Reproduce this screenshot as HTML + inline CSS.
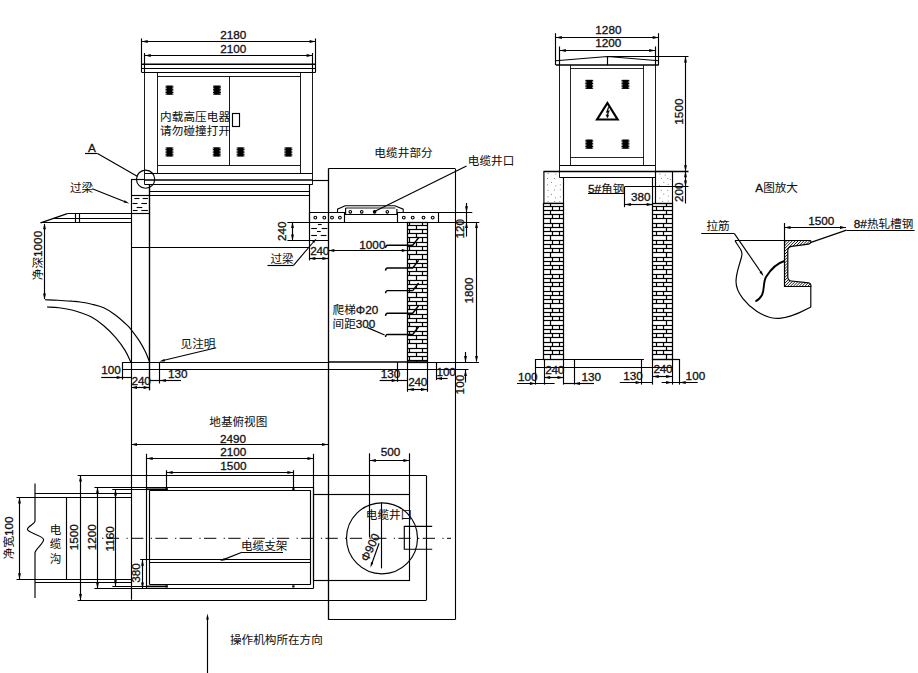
<!DOCTYPE html>
<html lang="zh"><head><meta charset="utf-8"><title>箱式变电站基础图</title>
<style>
html,body{margin:0;padding:0;background:#fff;}
svg{display:block}
svg text{font-family:"Liberation Sans","Noto Sans CJK SC",sans-serif;font-size:11.6px;fill:#111;stroke:#111;stroke-width:0.05px}
svg .d{font-size:11.75px;stroke-width:0.3px}
</style></head><body>
<svg width="918" height="673" viewBox="0 0 918 673" fill="none" stroke="#000">
<line x1="141.7" y1="41.5" x2="315.6" y2="41.5" stroke-width="1.15"/>
<polygon points="141.7,41.5 147.7,40.05 147.7,42.95" fill="#000" stroke="none"/>
<polygon points="315.6,41.5 309.6,42.95 309.6,40.05" fill="#000" stroke="none"/>
<text x="233.2" y="38.7" text-anchor="middle" class="d">2180</text>
<line x1="144.8" y1="55.5" x2="312.6" y2="55.5" stroke-width="1.15"/>
<polygon points="144.8,55.5 150.8,54.05 150.8,56.95" fill="#000" stroke="none"/>
<polygon points="312.6,55.5 306.6,56.95 306.6,54.05" fill="#000" stroke="none"/>
<text x="233.2" y="52.8" text-anchor="middle" class="d">2100</text>
<line x1="141.5" y1="38.5" x2="141.5" y2="72.4" stroke-width="1.15"/>
<line x1="315.5" y1="38.5" x2="315.5" y2="72.4" stroke-width="1.15"/>
<line x1="144.5" y1="53" x2="144.5" y2="72.4" stroke-width="1.15"/>
<line x1="312.5" y1="53" x2="312.5" y2="72.4" stroke-width="1.15"/>
<line x1="141.7" y1="64.2" x2="315.6" y2="64.2" stroke-width="1.6"/>
<line x1="141.7" y1="68.5" x2="315.6" y2="68.5" stroke-width="1.15"/>
<line x1="141.7" y1="72.5" x2="315.6" y2="72.5" stroke-width="1.15"/>
<line x1="144.5" y1="72.4" x2="144.5" y2="184.7" stroke-width="0.9"/>
<line x1="312.5" y1="72.4" x2="312.5" y2="184.7" stroke-width="0.9"/>
<line x1="157.5" y1="72.4" x2="157.5" y2="173.3" stroke-width="0.9"/>
<line x1="300.5" y1="72.4" x2="300.5" y2="173.3" stroke-width="0.9"/>
<line x1="157.7" y1="76.5" x2="300.3" y2="76.5" stroke-width="0.9"/>
<line x1="157.7" y1="165.5" x2="300.3" y2="165.5" stroke-width="0.9"/>
<line x1="229.5" y1="76.6" x2="229.5" y2="165.3" stroke-width="0.9"/>
<rect x="232.5" y="113.5" width="7" height="13" stroke-width="1.15" fill="none"/>
<line x1="165.5" y1="86.2" x2="173.4" y2="86.2" stroke-width="1"/>
<line x1="165.5" y1="87.78" x2="173.4" y2="87.78" stroke-width="1"/>
<line x1="165.5" y1="89.36" x2="173.4" y2="89.36" stroke-width="1"/>
<line x1="165.5" y1="90.94" x2="173.4" y2="90.94" stroke-width="1"/>
<line x1="165.5" y1="92.52" x2="173.4" y2="92.52" stroke-width="1"/>
<line x1="165.5" y1="94.1" x2="173.4" y2="94.1" stroke-width="1"/>
<rect x="166.7" y="85.7" width="5.5" height="8.9" fill="#000" stroke="none"/>
<line x1="213" y1="86.2" x2="220.9" y2="86.2" stroke-width="1"/>
<line x1="213" y1="87.78" x2="220.9" y2="87.78" stroke-width="1"/>
<line x1="213" y1="89.36" x2="220.9" y2="89.36" stroke-width="1"/>
<line x1="213" y1="90.94" x2="220.9" y2="90.94" stroke-width="1"/>
<line x1="213" y1="92.52" x2="220.9" y2="92.52" stroke-width="1"/>
<line x1="213" y1="94.1" x2="220.9" y2="94.1" stroke-width="1"/>
<rect x="214.2" y="85.7" width="5.5" height="8.9" fill="#000" stroke="none"/>
<line x1="165.5" y1="148" x2="173.4" y2="148" stroke-width="1"/>
<line x1="165.5" y1="149.58" x2="173.4" y2="149.58" stroke-width="1"/>
<line x1="165.5" y1="151.16" x2="173.4" y2="151.16" stroke-width="1"/>
<line x1="165.5" y1="152.74" x2="173.4" y2="152.74" stroke-width="1"/>
<line x1="165.5" y1="154.32" x2="173.4" y2="154.32" stroke-width="1"/>
<line x1="165.5" y1="155.9" x2="173.4" y2="155.9" stroke-width="1"/>
<rect x="166.7" y="147.5" width="5.5" height="8.9" fill="#000" stroke="none"/>
<line x1="212.8" y1="148" x2="220.7" y2="148" stroke-width="1"/>
<line x1="212.8" y1="149.58" x2="220.7" y2="149.58" stroke-width="1"/>
<line x1="212.8" y1="151.16" x2="220.7" y2="151.16" stroke-width="1"/>
<line x1="212.8" y1="152.74" x2="220.7" y2="152.74" stroke-width="1"/>
<line x1="212.8" y1="154.32" x2="220.7" y2="154.32" stroke-width="1"/>
<line x1="212.8" y1="155.9" x2="220.7" y2="155.9" stroke-width="1"/>
<rect x="214" y="147.5" width="5.5" height="8.9" fill="#000" stroke="none"/>
<line x1="236.6" y1="148" x2="244.5" y2="148" stroke-width="1"/>
<line x1="236.6" y1="149.58" x2="244.5" y2="149.58" stroke-width="1"/>
<line x1="236.6" y1="151.16" x2="244.5" y2="151.16" stroke-width="1"/>
<line x1="236.6" y1="152.74" x2="244.5" y2="152.74" stroke-width="1"/>
<line x1="236.6" y1="154.32" x2="244.5" y2="154.32" stroke-width="1"/>
<line x1="236.6" y1="155.9" x2="244.5" y2="155.9" stroke-width="1"/>
<rect x="237.8" y="147.5" width="5.5" height="8.9" fill="#000" stroke="none"/>
<line x1="284.4" y1="148" x2="292.3" y2="148" stroke-width="1"/>
<line x1="284.4" y1="149.58" x2="292.3" y2="149.58" stroke-width="1"/>
<line x1="284.4" y1="151.16" x2="292.3" y2="151.16" stroke-width="1"/>
<line x1="284.4" y1="152.74" x2="292.3" y2="152.74" stroke-width="1"/>
<line x1="284.4" y1="154.32" x2="292.3" y2="154.32" stroke-width="1"/>
<line x1="284.4" y1="155.9" x2="292.3" y2="155.9" stroke-width="1"/>
<rect x="285.6" y="147.5" width="5.5" height="8.9" fill="#000" stroke="none"/>
<text x="160" y="121.3" letter-spacing="0.1">内载高压电器</text>
<text x="160" y="135.2" letter-spacing="0.1">请勿碰撞打开</text>
<line x1="144.8" y1="173.5" x2="312.6" y2="173.5" stroke-width="1.15"/>
<line x1="144.8" y1="180" x2="312.6" y2="180" stroke-width="1.7"/>
<line x1="312.6" y1="180.5" x2="328.4" y2="180.5" stroke-width="1.15"/>
<line x1="144.8" y1="184.5" x2="312.6" y2="184.5" stroke-width="1.15"/>
<line x1="149.8" y1="191.5" x2="309.3" y2="191.5" stroke-width="1.15"/>
<line x1="149.8" y1="195.5" x2="309.3" y2="195.5" stroke-width="1.15"/>
<circle cx="145.6" cy="179.2" r="9.1" stroke-width="1.15" fill="none"/>
<text x="88" y="152" class="d">A</text>
<line x1="85" y1="153.5" x2="97.5" y2="153.5" stroke-width="1.15"/>
<line x1="97.5" y1="153.6" x2="137.6" y2="176.6" stroke-width="1.15"/>
<line x1="131" y1="179.5" x2="144.8" y2="179.5" stroke-width="1.15"/>
<line x1="131.5" y1="179.5" x2="131.5" y2="599.7" stroke-width="1.15"/>
<line x1="149.5" y1="184.7" x2="149.5" y2="390.3" stroke-width="1.4"/>
<line x1="131" y1="195.5" x2="149.8" y2="195.5" stroke-width="1.15"/>
<line x1="131" y1="213.5" x2="149.8" y2="213.5" stroke-width="1.15"/>
<line x1="134.38" y1="198.5" x2="139.46" y2="198.5" stroke-width="1.1"/>
<line x1="142.66" y1="198.5" x2="147.92" y2="198.5" stroke-width="1.1"/>
<line x1="132.5" y1="203.5" x2="137.58" y2="203.5" stroke-width="1.1"/>
<line x1="141.34" y1="203.5" x2="146.98" y2="203.5" stroke-width="1.1"/>
<line x1="136.64" y1="207.5" x2="142.28" y2="207.5" stroke-width="1.1"/>
<line x1="132.88" y1="210.5" x2="137.58" y2="210.5" stroke-width="1.1"/>
<line x1="141.34" y1="210.5" x2="147.92" y2="210.5" stroke-width="1.1"/>
<text x="70" y="191.8">过梁</text>
<line x1="92.3" y1="188.8" x2="125" y2="201.7" stroke-width="1.15"/>
<polygon points="129.3,203.4 123.71,202.59 124.66,200.17" fill="#000" stroke="none"/>
<line x1="67.3" y1="213.5" x2="131" y2="213.5" stroke-width="1.15"/>
<line x1="53" y1="218.5" x2="131" y2="218.5" stroke-width="1.15"/>
<line x1="40.6" y1="222.5" x2="131" y2="222.5" stroke-width="1.15"/>
<line x1="40.6" y1="222.9" x2="67.3" y2="213.6" stroke-width="1.15"/>
<line x1="75.5" y1="213.6" x2="75.5" y2="222.9" stroke-width="1.15"/>
<line x1="79.5" y1="213.6" x2="79.5" y2="222.9" stroke-width="1.15"/>
<line x1="131" y1="247.5" x2="309.3" y2="247.5" stroke-width="1.15"/>
<line x1="309.5" y1="184.7" x2="309.5" y2="260.4" stroke-width="1.15"/>
<line x1="44.5" y1="224" x2="44.5" y2="299" stroke-width="1.15"/>
<polygon points="44.5,223.2 45.95,229.2 43.05,229.2" fill="#000" stroke="none"/>
<polygon points="44.5,299.6 43.05,293.6 45.95,293.6" fill="#000" stroke="none"/>
<text x="42.4" y="255.5" text-anchor="middle" transform="rotate(-90 42.4 255.5)">净深<tspan class="d">1000</tspan></text>
<path d="M44.9 299.8 C47.08 299.87 53.5 299.97 58 300.2 C62.5 300.43 68.23 300.9 71.9 301.2 C75.57 301.5 76.67 301.5 80 302 C83.33 302.5 87.93 303.23 91.9 304.2 C95.87 305.17 99.83 305.97 103.8 307.8 C107.77 309.63 111.73 312.23 115.7 315.2 C119.67 318.17 125.03 323.2 127.6 325.6 C130.17 328 129.12 327.02 131.1 329.6 C133.08 332.18 137.12 337.4 139.5 341.1 C141.88 344.8 143.72 348.32 145.4 351.8 C147.08 355.28 148.9 360.3 149.6 362" stroke-width="1.15" fill="none"/>
<path d="M47 307 C49 307.13 54.85 307.3 59 307.8 C63.15 308.3 68.4 309.22 71.9 310 C75.4 310.78 76.67 311.28 80 312.5 C83.33 313.72 87.93 315.1 91.9 317.3 C95.87 319.5 99.83 322.32 103.8 325.7 C107.77 329.08 112.13 333.45 115.7 337.6 C119.27 341.75 122.7 346.53 125.2 350.6 C127.7 354.67 129.78 360.1 130.7 362" stroke-width="1.15" fill="none"/>
<line x1="122.7" y1="362.5" x2="328.4" y2="362.5" stroke-width="1.15"/>
<line x1="328.4" y1="362.1" x2="428" y2="362.1" stroke-width="1.5"/>
<line x1="122.7" y1="369.5" x2="468.5" y2="369.5" stroke-width="1.15"/>
<line x1="122.5" y1="362.1" x2="122.5" y2="379.6" stroke-width="1.15"/>
<text x="180.6" y="348.4">见注明</text>
<line x1="216.2" y1="347.7" x2="163" y2="360.5" stroke-width="1.15"/>
<polygon points="159.3,361.5 164.34,358.94 164.95,361.47" fill="#000" stroke="none"/>
<text x="101.2" y="374.3" class="d">100</text>
<line x1="101.2" y1="377.5" x2="131" y2="377.5" stroke-width="1.15"/>
<polygon points="122.7,377.5 116.7,378.95 116.7,376.05" fill="#000" stroke="none"/>
<text x="131.6" y="384.6" letter-spacing="-0.2" class="d">240</text>
<line x1="131" y1="387.5" x2="149.6" y2="387.5" stroke-width="1.15"/>
<polygon points="131,387.5 137,386.05 137,388.95" fill="#000" stroke="none"/>
<polygon points="149.6,387.5 143.6,388.95 143.6,386.05" fill="#000" stroke="none"/>
<line x1="159.5" y1="362.1" x2="159.5" y2="383.5" stroke-width="1.15"/>
<text x="168" y="377.6" class="d">130</text>
<line x1="149.6" y1="380.5" x2="181" y2="380.5" stroke-width="1.15"/>
<polygon points="159.8,380.5 165.8,379.05 165.8,381.95" fill="#000" stroke="none"/>
<line x1="328.4" y1="168.5" x2="455" y2="168.5" stroke-width="1.15"/>
<line x1="328.5" y1="168.4" x2="328.5" y2="619.8" stroke-width="1.3"/>
<line x1="455.5" y1="168.4" x2="455.5" y2="619.8" stroke-width="1.1"/>
<text x="374.3" y="157.4" letter-spacing="0.1">电缆井部分</text>
<text x="467.7" y="165" letter-spacing="0.1">电缆井口</text>
<line x1="466.5" y1="166" x2="374.5" y2="211.6" stroke-width="1.15"/>
<line x1="309.3" y1="212.5" x2="345.6" y2="212.5" stroke-width="1.15"/>
<line x1="396.9" y1="212.5" x2="472.3" y2="212.5" stroke-width="1.15"/>
<line x1="287.4" y1="222.5" x2="479.3" y2="222.5" stroke-width="1.15"/>
<line x1="309.5" y1="212.2" x2="309.5" y2="222.1" stroke-width="1.15"/>
<line x1="344.5" y1="212.2" x2="344.5" y2="222.1" stroke-width="1.15"/>
<line x1="397.5" y1="212.2" x2="397.5" y2="222.1" stroke-width="1.15"/>
<line x1="438.5" y1="212.2" x2="438.5" y2="222.1" stroke-width="1.15"/>
<circle cx="315.3" cy="217.6" r="1.4" stroke-width="1.1" fill="none"/>
<circle cx="324.3" cy="217.6" r="1.4" stroke-width="1.1" fill="none"/>
<circle cx="332" cy="217.6" r="1.4" stroke-width="1.1" fill="none"/>
<circle cx="339.9" cy="217.6" r="1.4" stroke-width="1.1" fill="none"/>
<circle cx="403.8" cy="217.6" r="1.4" stroke-width="1.1" fill="none"/>
<circle cx="412.7" cy="217.6" r="1.4" stroke-width="1.1" fill="none"/>
<circle cx="423.5" cy="217.6" r="1.4" stroke-width="1.1" fill="none"/>
<circle cx="432.7" cy="217.6" r="1.4" stroke-width="1.1" fill="none"/>
<path d="M337.5 212.5 L337.5 209.2 L345.2 205.7 L394.9 205.7 L403.2 209.2 L403.2 212.5" stroke-width="1.05" fill="none"/>
<line x1="345.6" y1="208" x2="395.5" y2="208" stroke-width="0.9"/>
<path d="M345.6 207.9 L345.6 214.5 L396.9 214.5 L396.9 209" stroke-width="1.15" fill="none"/>
<circle cx="350.3" cy="211.8" r="1.3" stroke-width="1.1" fill="none"/>
<circle cx="361.7" cy="211.8" r="1.3" stroke-width="1.1" fill="none"/>
<circle cx="374.6" cy="211.8" r="1.3" stroke-width="1.1" fill="none"/>
<circle cx="387.3" cy="211.8" r="1.3" stroke-width="1.1" fill="none"/>
<circle cx="374.6" cy="211.8" r="1.2" fill="#000" stroke="none"/>
<line x1="287.4" y1="240.5" x2="328.4" y2="240.5" stroke-width="1.15"/>
<line x1="317.89" y1="224.5" x2="321.71" y2="224.5" stroke-width="1.1"/>
<line x1="311.21" y1="228.5" x2="316.94" y2="228.5" stroke-width="1.1"/>
<line x1="321.71" y1="228.5" x2="327.44" y2="228.5" stroke-width="1.1"/>
<line x1="316.94" y1="231.5" x2="320.76" y2="231.5" stroke-width="1.1"/>
<line x1="311.21" y1="235.5" x2="316.94" y2="235.5" stroke-width="1.1"/>
<line x1="320.76" y1="235.5" x2="326.49" y2="235.5" stroke-width="1.1"/>
<line x1="292.5" y1="222.1" x2="292.5" y2="240.4" stroke-width="1.15"/>
<polygon points="292.5,222.1 293.95,228.1 291.05,228.1" fill="#000" stroke="none"/>
<polygon points="292.5,240.4 291.05,234.4 293.95,234.4" fill="#000" stroke="none"/>
<text x="286" y="231.2" text-anchor="middle" transform="rotate(-90 286 231.2)" class="d">240</text>
<text x="270.4" y="263.4">过梁</text>
<line x1="267.5" y1="265.5" x2="293.5" y2="265.5" stroke-width="1.15"/>
<line x1="293.5" y1="265.3" x2="313" y2="242.5" stroke-width="1.15"/>
<polygon points="316.6,238.5 314.01,243.17 312.23,241.56" fill="#000" stroke="none"/>
<text x="310.2" y="254.7" letter-spacing="-0.2" class="d">240</text>
<line x1="309.3" y1="258.5" x2="328.4" y2="258.5" stroke-width="1.15"/>
<polygon points="309.3,258.5 315.3,257.05 315.3,259.95" fill="#000" stroke="none"/>
<polygon points="328.4,258.5 322.4,259.95 322.4,257.05" fill="#000" stroke="none"/>
<line x1="328.4" y1="250.5" x2="407.7" y2="250.5" stroke-width="1.15"/>
<polygon points="328.4,250.5 334.4,249.05 334.4,251.95" fill="#000" stroke="none"/>
<polygon points="407.7,250.5 401.7,251.95 401.7,249.05" fill="#000" stroke="none"/>
<text x="359.3" y="248.8" class="d">1000</text>
<rect x="407.5" y="222.5" width="20" height="140" stroke-width="1.25" fill="none"/>
<line x1="409.5" y1="222.1" x2="409.5" y2="225.1" stroke-width="1.2"/>
<line x1="422.5" y1="222.1" x2="422.5" y2="225.1" stroke-width="1.2"/>
<line x1="407.8" y1="225.5" x2="427" y2="225.5" stroke-width="1.2"/>
<line x1="416.5" y1="225.1" x2="416.5" y2="229.34" stroke-width="1.2"/>
<line x1="407.8" y1="229.5" x2="427" y2="229.5" stroke-width="1.2"/>
<line x1="409.5" y1="229.34" x2="409.5" y2="233.58" stroke-width="1.2"/>
<line x1="422.5" y1="229.34" x2="422.5" y2="233.58" stroke-width="1.2"/>
<line x1="407.8" y1="233.5" x2="427" y2="233.5" stroke-width="1.2"/>
<line x1="416.5" y1="233.58" x2="416.5" y2="237.82" stroke-width="1.2"/>
<line x1="407.8" y1="237.5" x2="427" y2="237.5" stroke-width="1.2"/>
<line x1="409.5" y1="237.82" x2="409.5" y2="242.06" stroke-width="1.2"/>
<line x1="422.5" y1="237.82" x2="422.5" y2="242.06" stroke-width="1.2"/>
<line x1="407.8" y1="242.5" x2="427" y2="242.5" stroke-width="1.2"/>
<line x1="416.5" y1="242.06" x2="416.5" y2="246.3" stroke-width="1.2"/>
<line x1="407.8" y1="246.5" x2="427" y2="246.5" stroke-width="1.2"/>
<line x1="409.5" y1="246.3" x2="409.5" y2="250.54" stroke-width="1.2"/>
<line x1="422.5" y1="246.3" x2="422.5" y2="250.54" stroke-width="1.2"/>
<line x1="407.8" y1="250.5" x2="427" y2="250.5" stroke-width="1.2"/>
<line x1="416.5" y1="250.54" x2="416.5" y2="254.78" stroke-width="1.2"/>
<line x1="407.8" y1="254.5" x2="427" y2="254.5" stroke-width="1.2"/>
<line x1="409.5" y1="254.78" x2="409.5" y2="259.02" stroke-width="1.2"/>
<line x1="422.5" y1="254.78" x2="422.5" y2="259.02" stroke-width="1.2"/>
<line x1="407.8" y1="259.5" x2="427" y2="259.5" stroke-width="1.2"/>
<line x1="416.5" y1="259.02" x2="416.5" y2="263.26" stroke-width="1.2"/>
<line x1="407.8" y1="263.5" x2="427" y2="263.5" stroke-width="1.2"/>
<line x1="409.5" y1="263.26" x2="409.5" y2="267.5" stroke-width="1.2"/>
<line x1="422.5" y1="263.26" x2="422.5" y2="267.5" stroke-width="1.2"/>
<line x1="407.8" y1="267.5" x2="427" y2="267.5" stroke-width="1.2"/>
<line x1="416.5" y1="267.5" x2="416.5" y2="271.74" stroke-width="1.2"/>
<line x1="407.8" y1="271.5" x2="427" y2="271.5" stroke-width="1.2"/>
<line x1="409.5" y1="271.74" x2="409.5" y2="275.98" stroke-width="1.2"/>
<line x1="422.5" y1="271.74" x2="422.5" y2="275.98" stroke-width="1.2"/>
<line x1="407.8" y1="275.5" x2="427" y2="275.5" stroke-width="1.2"/>
<line x1="416.5" y1="275.98" x2="416.5" y2="280.22" stroke-width="1.2"/>
<line x1="407.8" y1="280.5" x2="427" y2="280.5" stroke-width="1.2"/>
<line x1="409.5" y1="280.22" x2="409.5" y2="284.46" stroke-width="1.2"/>
<line x1="422.5" y1="280.22" x2="422.5" y2="284.46" stroke-width="1.2"/>
<line x1="407.8" y1="284.5" x2="427" y2="284.5" stroke-width="1.2"/>
<line x1="416.5" y1="284.46" x2="416.5" y2="288.7" stroke-width="1.2"/>
<line x1="407.8" y1="288.5" x2="427" y2="288.5" stroke-width="1.2"/>
<line x1="409.5" y1="288.7" x2="409.5" y2="292.94" stroke-width="1.2"/>
<line x1="422.5" y1="288.7" x2="422.5" y2="292.94" stroke-width="1.2"/>
<line x1="407.8" y1="292.5" x2="427" y2="292.5" stroke-width="1.2"/>
<line x1="416.5" y1="292.94" x2="416.5" y2="297.18" stroke-width="1.2"/>
<line x1="407.8" y1="297.5" x2="427" y2="297.5" stroke-width="1.2"/>
<line x1="409.5" y1="297.18" x2="409.5" y2="301.42" stroke-width="1.2"/>
<line x1="422.5" y1="297.18" x2="422.5" y2="301.42" stroke-width="1.2"/>
<line x1="407.8" y1="301.5" x2="427" y2="301.5" stroke-width="1.2"/>
<line x1="416.5" y1="301.42" x2="416.5" y2="305.66" stroke-width="1.2"/>
<line x1="407.8" y1="305.5" x2="427" y2="305.5" stroke-width="1.2"/>
<line x1="409.5" y1="305.66" x2="409.5" y2="309.9" stroke-width="1.2"/>
<line x1="422.5" y1="305.66" x2="422.5" y2="309.9" stroke-width="1.2"/>
<line x1="407.8" y1="309.5" x2="427" y2="309.5" stroke-width="1.2"/>
<line x1="416.5" y1="309.9" x2="416.5" y2="314.14" stroke-width="1.2"/>
<line x1="407.8" y1="314.5" x2="427" y2="314.5" stroke-width="1.2"/>
<line x1="409.5" y1="314.14" x2="409.5" y2="318.38" stroke-width="1.2"/>
<line x1="422.5" y1="314.14" x2="422.5" y2="318.38" stroke-width="1.2"/>
<line x1="407.8" y1="318.5" x2="427" y2="318.5" stroke-width="1.2"/>
<line x1="416.5" y1="318.38" x2="416.5" y2="322.62" stroke-width="1.2"/>
<line x1="407.8" y1="322.5" x2="427" y2="322.5" stroke-width="1.2"/>
<line x1="409.5" y1="322.62" x2="409.5" y2="326.86" stroke-width="1.2"/>
<line x1="422.5" y1="322.62" x2="422.5" y2="326.86" stroke-width="1.2"/>
<line x1="407.8" y1="326.5" x2="427" y2="326.5" stroke-width="1.2"/>
<line x1="416.5" y1="326.86" x2="416.5" y2="331.1" stroke-width="1.2"/>
<line x1="407.8" y1="331.5" x2="427" y2="331.5" stroke-width="1.2"/>
<line x1="409.5" y1="331.1" x2="409.5" y2="335.34" stroke-width="1.2"/>
<line x1="422.5" y1="331.1" x2="422.5" y2="335.34" stroke-width="1.2"/>
<line x1="407.8" y1="335.5" x2="427" y2="335.5" stroke-width="1.2"/>
<line x1="416.5" y1="335.34" x2="416.5" y2="339.58" stroke-width="1.2"/>
<line x1="407.8" y1="339.5" x2="427" y2="339.5" stroke-width="1.2"/>
<line x1="409.5" y1="339.58" x2="409.5" y2="343.82" stroke-width="1.2"/>
<line x1="422.5" y1="339.58" x2="422.5" y2="343.82" stroke-width="1.2"/>
<line x1="407.8" y1="343.5" x2="427" y2="343.5" stroke-width="1.2"/>
<line x1="416.5" y1="343.82" x2="416.5" y2="348.06" stroke-width="1.2"/>
<line x1="407.8" y1="348.5" x2="427" y2="348.5" stroke-width="1.2"/>
<line x1="409.5" y1="348.06" x2="409.5" y2="352.3" stroke-width="1.2"/>
<line x1="422.5" y1="348.06" x2="422.5" y2="352.3" stroke-width="1.2"/>
<line x1="407.8" y1="352.5" x2="427" y2="352.5" stroke-width="1.2"/>
<line x1="416.5" y1="352.3" x2="416.5" y2="356.54" stroke-width="1.2"/>
<line x1="407.8" y1="356.5" x2="427" y2="356.5" stroke-width="1.2"/>
<line x1="409.5" y1="356.54" x2="409.5" y2="360.78" stroke-width="1.2"/>
<line x1="422.5" y1="356.54" x2="422.5" y2="360.78" stroke-width="1.2"/>
<line x1="407.8" y1="360.5" x2="427" y2="360.5" stroke-width="1.2"/>
<line x1="416.5" y1="360.78" x2="416.5" y2="362.1" stroke-width="1.2"/>
<path d="M385.5 247.9 Q385.7 245.4 387.6 245.3 L412.7 245.3 L418.6 237.7" stroke-width="1.45" fill="none"/>
<path d="M385.5 270.6 Q385.7 268.1 387.6 268 L412.7 268 L418.6 260.4" stroke-width="1.45" fill="none"/>
<path d="M385.5 293.2 Q385.7 290.7 387.6 290.6 L412.7 290.6 L418.6 283" stroke-width="1.45" fill="none"/>
<path d="M385.5 315.9 Q385.7 313.4 387.6 313.3 L412.7 313.3 L418.6 305.7" stroke-width="1.45" fill="none"/>
<path d="M385.5 337 Q385.7 334.5 387.6 334.4 L412.7 334.4 L418.6 326.8" stroke-width="1.45" fill="none"/>
<text x="332.6" y="314">爬梯<tspan class="d">Φ20</tspan></text>
<text x="332.6" y="328.2">间距<tspan class="d">300</tspan></text>
<line x1="367.5" y1="327.6" x2="384.6" y2="335" stroke-width="1.15"/>
<line x1="466.5" y1="203" x2="466.5" y2="236.5" stroke-width="1.15"/>
<polygon points="466.5,212.2 465.05,206.2 467.95,206.2" fill="#000" stroke="none"/>
<polygon points="466.5,222.1 467.95,228.1 465.05,228.1" fill="#000" stroke="none"/>
<text x="464.5" y="228.7" text-anchor="middle" transform="rotate(-90 464.5 228.7)" class="d">120</text>
<line x1="476.5" y1="222.1" x2="476.5" y2="361.5" stroke-width="1.15"/>
<polygon points="476.5,222.1 477.95,228.1 475.05,228.1" fill="#000" stroke="none"/>
<polygon points="476.5,362.1 475.05,356.1 477.95,356.1" fill="#000" stroke="none"/>
<text x="473.4" y="290.5" text-anchor="middle" transform="rotate(-90 473.4 290.5)" class="d">1800</text>
<line x1="428" y1="362.5" x2="479" y2="362.5" stroke-width="1.15"/>
<ellipse cx="460.3" cy="221.5" rx="2.3" ry="1.3" fill="#777" stroke="none"/>
<line x1="397.5" y1="362.1" x2="397.5" y2="381.8" stroke-width="1.15"/>
<line x1="407.5" y1="362.1" x2="407.5" y2="391.8" stroke-width="1.15"/>
<line x1="427.5" y1="362.1" x2="427.5" y2="391.8" stroke-width="1.15"/>
<line x1="436.5" y1="362.1" x2="436.5" y2="380" stroke-width="1.15"/>
<text x="380.8" y="377.7" class="d">130</text>
<line x1="379.6" y1="380.5" x2="407.8" y2="380.5" stroke-width="1.15"/>
<polygon points="397.7,380.5 391.7,381.95 391.7,379.05" fill="#000" stroke="none"/>
<text x="408.2" y="385.8" letter-spacing="-0.2" class="d">240</text>
<line x1="407.8" y1="389.5" x2="427" y2="389.5" stroke-width="1.15"/>
<polygon points="407.8,389.5 413.8,388.05 413.8,390.95" fill="#000" stroke="none"/>
<polygon points="427,389.5 421,390.95 421,388.05" fill="#000" stroke="none"/>
<text x="436.6" y="375.5" letter-spacing="-0.2" class="d">100</text>
<line x1="436" y1="378.5" x2="447.6" y2="378.5" stroke-width="1.15"/>
<polygon points="436,378.5 442,377.05 442,379.95" fill="#000" stroke="none"/>
<line x1="465.5" y1="352" x2="465.5" y2="362" stroke-width="1.15"/>
<polygon points="465.5,362.1 464.05,356.1 466.95,356.1" fill="#000" stroke="none"/>
<line x1="465.5" y1="369.9" x2="465.5" y2="382.5" stroke-width="1.15"/>
<polygon points="465.5,369.9 466.95,375.9 464.05,375.9" fill="#000" stroke="none"/>
<text x="464.2" y="384.6" text-anchor="middle" transform="rotate(-90 464.2 384.6)" class="d">100</text>
<line x1="555.8" y1="37.5" x2="658.7" y2="37.5" stroke-width="1.15"/>
<polygon points="555.8,37.5 561.8,36.05 561.8,38.95" fill="#000" stroke="none"/>
<polygon points="658.7,37.5 652.7,38.95 652.7,36.05" fill="#000" stroke="none"/>
<text x="608.4" y="33.8" text-anchor="middle" class="d">1280</text>
<line x1="559.8" y1="50.5" x2="655.1" y2="50.5" stroke-width="1.15"/>
<polygon points="559.8,50.5 565.8,49.05 565.8,51.95" fill="#000" stroke="none"/>
<polygon points="655.1,50.5 649.1,51.95 649.1,49.05" fill="#000" stroke="none"/>
<text x="608.2" y="47" text-anchor="middle" class="d">1200</text>
<line x1="555.5" y1="33.2" x2="555.5" y2="65" stroke-width="1.15"/>
<line x1="658.5" y1="33.2" x2="658.5" y2="65" stroke-width="1.15"/>
<line x1="559.5" y1="46.5" x2="559.5" y2="65" stroke-width="1.15"/>
<line x1="655.5" y1="46.5" x2="655.5" y2="65" stroke-width="1.15"/>
<path d="M555.8 60.8 L607.5 56.5 L658.7 60.8" stroke-width="1.15" fill="none"/>
<line x1="607.5" y1="56.5" x2="607.5" y2="65" stroke-width="1.15"/>
<line x1="607.5" y1="56.5" x2="688.5" y2="56.5" stroke-width="1.15"/>
<line x1="555.8" y1="65" x2="658.7" y2="65" stroke-width="1.7"/>
<line x1="559.5" y1="65" x2="559.5" y2="177.6" stroke-width="0.9"/>
<line x1="655.5" y1="65" x2="655.5" y2="177.6" stroke-width="0.9"/>
<line x1="570.5" y1="65" x2="570.5" y2="165.1" stroke-width="0.85"/>
<line x1="643.5" y1="65" x2="643.5" y2="165.1" stroke-width="0.85"/>
<line x1="570.4" y1="68.5" x2="643.8" y2="68.5" stroke-width="0.85"/>
<line x1="570.4" y1="157.5" x2="643.8" y2="157.5" stroke-width="0.85"/>
<line x1="559.6" y1="165.5" x2="655" y2="165.5" stroke-width="1.2"/>
<line x1="543.7" y1="171.5" x2="688.5" y2="171.5" stroke-width="1.3"/>
<line x1="559.6" y1="177.5" x2="655" y2="177.5" stroke-width="1.15"/>
<line x1="585.3" y1="80.4" x2="593.2" y2="80.4" stroke-width="1"/>
<line x1="585.3" y1="81.98" x2="593.2" y2="81.98" stroke-width="1"/>
<line x1="585.3" y1="83.56" x2="593.2" y2="83.56" stroke-width="1"/>
<line x1="585.3" y1="85.14" x2="593.2" y2="85.14" stroke-width="1"/>
<line x1="585.3" y1="86.72" x2="593.2" y2="86.72" stroke-width="1"/>
<line x1="585.3" y1="88.3" x2="593.2" y2="88.3" stroke-width="1"/>
<rect x="586.5" y="79.9" width="5.5" height="8.9" fill="#000" stroke="none"/>
<line x1="585.3" y1="140.2" x2="593.2" y2="140.2" stroke-width="1"/>
<line x1="585.3" y1="141.78" x2="593.2" y2="141.78" stroke-width="1"/>
<line x1="585.3" y1="143.36" x2="593.2" y2="143.36" stroke-width="1"/>
<line x1="585.3" y1="144.94" x2="593.2" y2="144.94" stroke-width="1"/>
<line x1="585.3" y1="146.52" x2="593.2" y2="146.52" stroke-width="1"/>
<line x1="585.3" y1="148.1" x2="593.2" y2="148.1" stroke-width="1"/>
<rect x="586.5" y="139.7" width="5.5" height="8.9" fill="#000" stroke="none"/>
<line x1="621.5" y1="80.4" x2="629.4" y2="80.4" stroke-width="1"/>
<line x1="621.5" y1="81.98" x2="629.4" y2="81.98" stroke-width="1"/>
<line x1="621.5" y1="83.56" x2="629.4" y2="83.56" stroke-width="1"/>
<line x1="621.5" y1="85.14" x2="629.4" y2="85.14" stroke-width="1"/>
<line x1="621.5" y1="86.72" x2="629.4" y2="86.72" stroke-width="1"/>
<line x1="621.5" y1="88.3" x2="629.4" y2="88.3" stroke-width="1"/>
<rect x="622.7" y="79.9" width="5.5" height="8.9" fill="#000" stroke="none"/>
<line x1="621.5" y1="140.2" x2="629.4" y2="140.2" stroke-width="1"/>
<line x1="621.5" y1="141.78" x2="629.4" y2="141.78" stroke-width="1"/>
<line x1="621.5" y1="143.36" x2="629.4" y2="143.36" stroke-width="1"/>
<line x1="621.5" y1="144.94" x2="629.4" y2="144.94" stroke-width="1"/>
<line x1="621.5" y1="146.52" x2="629.4" y2="146.52" stroke-width="1"/>
<line x1="621.5" y1="148.1" x2="629.4" y2="148.1" stroke-width="1"/>
<rect x="622.7" y="139.7" width="5.5" height="8.9" fill="#000" stroke="none"/>
<path d="M607.4 103 L597.1 119.5 L617.6 119.5 Z" stroke-width="2.2" fill="none"/>
<path d="M608.4 106.8 L606.2 112.6 L607.6 112.3 L607 115 L605.9 114.8 L607.4 118 L608.9 115.2 L607.9 115.1 L609.4 110.6 L607.9 110.9 L608.9 106.8 Z" stroke-width="0.4" fill="#000"/>
<path d="M543.9 171.3 L543.9 203.2 L563.6 203.2" stroke-width="1.15" fill="none"/>
<rect x="655.5" y="171.5" width="17" height="32" stroke-width="1.15" fill="none"/>
<line x1="563.5" y1="177.6" x2="563.5" y2="203.2" stroke-width="1.15"/>
<line x1="652.5" y1="177.6" x2="652.5" y2="203.2" stroke-width="1.15"/>
<circle cx="659.9" cy="174.02" r="0.52" fill="#666" stroke="none"/>
<circle cx="661.37" cy="178.43" r="0.52" fill="#666" stroke="none"/>
<circle cx="667.75" cy="178.43" r="0.52" fill="#666" stroke="none"/>
<circle cx="663.82" cy="182.35" r="0.52" fill="#666" stroke="none"/>
<circle cx="668.24" cy="184.31" r="0.52" fill="#666" stroke="none"/>
<circle cx="661.18" cy="190.2" r="0.52" fill="#666" stroke="none"/>
<circle cx="667.75" cy="190.2" r="0.52" fill="#666" stroke="none"/>
<circle cx="663.82" cy="194.12" r="0.52" fill="#666" stroke="none"/>
<circle cx="659.9" cy="198.04" r="0.52" fill="#666" stroke="none"/>
<circle cx="668.24" cy="196.08" r="0.52" fill="#666" stroke="none"/>
<circle cx="662.35" cy="201.47" r="0.52" fill="#666" stroke="none"/>
<circle cx="668.24" cy="200.98" r="0.52" fill="#666" stroke="none"/>
<circle cx="665.29" cy="175" r="0.52" fill="#666" stroke="none"/>
<circle cx="659.41" cy="185.29" r="0.52" fill="#666" stroke="none"/>
<circle cx="670.2" cy="179.41" r="0.52" fill="#666" stroke="none"/>
<circle cx="548.04" cy="173.53" r="0.52" fill="#666" stroke="none"/>
<circle cx="555.88" cy="174.02" r="0.52" fill="#666" stroke="none"/>
<circle cx="547.55" cy="178.43" r="0.52" fill="#666" stroke="none"/>
<circle cx="554.41" cy="178.43" r="0.52" fill="#666" stroke="none"/>
<circle cx="551.47" cy="182.35" r="0.52" fill="#666" stroke="none"/>
<circle cx="547.55" cy="184.8" r="0.52" fill="#666" stroke="none"/>
<circle cx="555.88" cy="185.78" r="0.52" fill="#666" stroke="none"/>
<circle cx="560.29" cy="184.8" r="0.52" fill="#666" stroke="none"/>
<circle cx="548.04" cy="190.2" r="0.52" fill="#666" stroke="none"/>
<circle cx="554.41" cy="190" r="0.52" fill="#666" stroke="none"/>
<circle cx="560.29" cy="189.71" r="0.52" fill="#666" stroke="none"/>
<circle cx="551.47" cy="194.31" r="0.52" fill="#666" stroke="none"/>
<circle cx="548.04" cy="196.86" r="0.52" fill="#666" stroke="none"/>
<circle cx="555.39" cy="197.84" r="0.52" fill="#666" stroke="none"/>
<circle cx="560.29" cy="196.86" r="0.52" fill="#666" stroke="none"/>
<circle cx="548.04" cy="201.47" r="0.52" fill="#666" stroke="none"/>
<circle cx="554.41" cy="201.47" r="0.52" fill="#666" stroke="none"/>
<circle cx="559.8" cy="201.47" r="0.52" fill="#666" stroke="none"/>
<rect x="543.5" y="203.5" width="20" height="156" stroke-width="1.25" fill="none"/>
<line x1="550.5" y1="203.2" x2="550.5" y2="206" stroke-width="1.2"/>
<line x1="543.7" y1="206.5" x2="563.5" y2="206.5" stroke-width="1.2"/>
<line x1="552.5" y1="206" x2="552.5" y2="210.25" stroke-width="1.2"/>
<line x1="559.5" y1="206" x2="559.5" y2="210.25" stroke-width="1.2"/>
<line x1="543.7" y1="210.5" x2="563.5" y2="210.5" stroke-width="1.2"/>
<line x1="550.5" y1="210.25" x2="550.5" y2="214.5" stroke-width="1.2"/>
<line x1="543.7" y1="214.5" x2="563.5" y2="214.5" stroke-width="1.2"/>
<line x1="552.5" y1="214.5" x2="552.5" y2="218.75" stroke-width="1.2"/>
<line x1="559.5" y1="214.5" x2="559.5" y2="218.75" stroke-width="1.2"/>
<line x1="543.7" y1="218.5" x2="563.5" y2="218.5" stroke-width="1.2"/>
<line x1="550.5" y1="218.75" x2="550.5" y2="223" stroke-width="1.2"/>
<line x1="543.7" y1="223.5" x2="563.5" y2="223.5" stroke-width="1.2"/>
<line x1="552.5" y1="223" x2="552.5" y2="227.25" stroke-width="1.2"/>
<line x1="559.5" y1="223" x2="559.5" y2="227.25" stroke-width="1.2"/>
<line x1="543.7" y1="227.5" x2="563.5" y2="227.5" stroke-width="1.2"/>
<line x1="550.5" y1="227.25" x2="550.5" y2="231.5" stroke-width="1.2"/>
<line x1="543.7" y1="231.5" x2="563.5" y2="231.5" stroke-width="1.2"/>
<line x1="552.5" y1="231.5" x2="552.5" y2="235.75" stroke-width="1.2"/>
<line x1="559.5" y1="231.5" x2="559.5" y2="235.75" stroke-width="1.2"/>
<line x1="543.7" y1="235.5" x2="563.5" y2="235.5" stroke-width="1.2"/>
<line x1="550.5" y1="235.75" x2="550.5" y2="240" stroke-width="1.2"/>
<line x1="543.7" y1="240.5" x2="563.5" y2="240.5" stroke-width="1.2"/>
<line x1="552.5" y1="240" x2="552.5" y2="244.25" stroke-width="1.2"/>
<line x1="559.5" y1="240" x2="559.5" y2="244.25" stroke-width="1.2"/>
<line x1="543.7" y1="244.5" x2="563.5" y2="244.5" stroke-width="1.2"/>
<line x1="550.5" y1="244.25" x2="550.5" y2="248.5" stroke-width="1.2"/>
<line x1="543.7" y1="248.5" x2="563.5" y2="248.5" stroke-width="1.2"/>
<line x1="552.5" y1="248.5" x2="552.5" y2="252.75" stroke-width="1.2"/>
<line x1="559.5" y1="248.5" x2="559.5" y2="252.75" stroke-width="1.2"/>
<line x1="543.7" y1="252.5" x2="563.5" y2="252.5" stroke-width="1.2"/>
<line x1="550.5" y1="252.75" x2="550.5" y2="257" stroke-width="1.2"/>
<line x1="543.7" y1="257.5" x2="563.5" y2="257.5" stroke-width="1.2"/>
<line x1="552.5" y1="257" x2="552.5" y2="261.25" stroke-width="1.2"/>
<line x1="559.5" y1="257" x2="559.5" y2="261.25" stroke-width="1.2"/>
<line x1="543.7" y1="261.5" x2="563.5" y2="261.5" stroke-width="1.2"/>
<line x1="550.5" y1="261.25" x2="550.5" y2="265.5" stroke-width="1.2"/>
<line x1="543.7" y1="265.5" x2="563.5" y2="265.5" stroke-width="1.2"/>
<line x1="552.5" y1="265.5" x2="552.5" y2="269.75" stroke-width="1.2"/>
<line x1="559.5" y1="265.5" x2="559.5" y2="269.75" stroke-width="1.2"/>
<line x1="543.7" y1="269.5" x2="563.5" y2="269.5" stroke-width="1.2"/>
<line x1="550.5" y1="269.75" x2="550.5" y2="274" stroke-width="1.2"/>
<line x1="543.7" y1="274.5" x2="563.5" y2="274.5" stroke-width="1.2"/>
<line x1="552.5" y1="274" x2="552.5" y2="278.25" stroke-width="1.2"/>
<line x1="559.5" y1="274" x2="559.5" y2="278.25" stroke-width="1.2"/>
<line x1="543.7" y1="278.5" x2="563.5" y2="278.5" stroke-width="1.2"/>
<line x1="550.5" y1="278.25" x2="550.5" y2="282.5" stroke-width="1.2"/>
<line x1="543.7" y1="282.5" x2="563.5" y2="282.5" stroke-width="1.2"/>
<line x1="552.5" y1="282.5" x2="552.5" y2="286.75" stroke-width="1.2"/>
<line x1="559.5" y1="282.5" x2="559.5" y2="286.75" stroke-width="1.2"/>
<line x1="543.7" y1="286.5" x2="563.5" y2="286.5" stroke-width="1.2"/>
<line x1="550.5" y1="286.75" x2="550.5" y2="291" stroke-width="1.2"/>
<line x1="543.7" y1="291.5" x2="563.5" y2="291.5" stroke-width="1.2"/>
<line x1="552.5" y1="291" x2="552.5" y2="295.25" stroke-width="1.2"/>
<line x1="559.5" y1="291" x2="559.5" y2="295.25" stroke-width="1.2"/>
<line x1="543.7" y1="295.5" x2="563.5" y2="295.5" stroke-width="1.2"/>
<line x1="550.5" y1="295.25" x2="550.5" y2="299.5" stroke-width="1.2"/>
<line x1="543.7" y1="299.5" x2="563.5" y2="299.5" stroke-width="1.2"/>
<line x1="552.5" y1="299.5" x2="552.5" y2="303.75" stroke-width="1.2"/>
<line x1="559.5" y1="299.5" x2="559.5" y2="303.75" stroke-width="1.2"/>
<line x1="543.7" y1="303.5" x2="563.5" y2="303.5" stroke-width="1.2"/>
<line x1="550.5" y1="303.75" x2="550.5" y2="308" stroke-width="1.2"/>
<line x1="543.7" y1="308.5" x2="563.5" y2="308.5" stroke-width="1.2"/>
<line x1="552.5" y1="308" x2="552.5" y2="312.25" stroke-width="1.2"/>
<line x1="559.5" y1="308" x2="559.5" y2="312.25" stroke-width="1.2"/>
<line x1="543.7" y1="312.5" x2="563.5" y2="312.5" stroke-width="1.2"/>
<line x1="550.5" y1="312.25" x2="550.5" y2="316.5" stroke-width="1.2"/>
<line x1="543.7" y1="316.5" x2="563.5" y2="316.5" stroke-width="1.2"/>
<line x1="552.5" y1="316.5" x2="552.5" y2="320.75" stroke-width="1.2"/>
<line x1="559.5" y1="316.5" x2="559.5" y2="320.75" stroke-width="1.2"/>
<line x1="543.7" y1="320.5" x2="563.5" y2="320.5" stroke-width="1.2"/>
<line x1="550.5" y1="320.75" x2="550.5" y2="325" stroke-width="1.2"/>
<line x1="543.7" y1="325.5" x2="563.5" y2="325.5" stroke-width="1.2"/>
<line x1="552.5" y1="325" x2="552.5" y2="329.25" stroke-width="1.2"/>
<line x1="559.5" y1="325" x2="559.5" y2="329.25" stroke-width="1.2"/>
<line x1="543.7" y1="329.5" x2="563.5" y2="329.5" stroke-width="1.2"/>
<line x1="550.5" y1="329.25" x2="550.5" y2="333.5" stroke-width="1.2"/>
<line x1="543.7" y1="333.5" x2="563.5" y2="333.5" stroke-width="1.2"/>
<line x1="552.5" y1="333.5" x2="552.5" y2="337.75" stroke-width="1.2"/>
<line x1="559.5" y1="333.5" x2="559.5" y2="337.75" stroke-width="1.2"/>
<line x1="543.7" y1="337.5" x2="563.5" y2="337.5" stroke-width="1.2"/>
<line x1="550.5" y1="337.75" x2="550.5" y2="342" stroke-width="1.2"/>
<line x1="543.7" y1="342.5" x2="563.5" y2="342.5" stroke-width="1.2"/>
<line x1="552.5" y1="342" x2="552.5" y2="346.25" stroke-width="1.2"/>
<line x1="559.5" y1="342" x2="559.5" y2="346.25" stroke-width="1.2"/>
<line x1="543.7" y1="346.5" x2="563.5" y2="346.5" stroke-width="1.2"/>
<line x1="550.5" y1="346.25" x2="550.5" y2="350.5" stroke-width="1.2"/>
<line x1="543.7" y1="350.5" x2="563.5" y2="350.5" stroke-width="1.2"/>
<line x1="552.5" y1="350.5" x2="552.5" y2="354.75" stroke-width="1.2"/>
<line x1="559.5" y1="350.5" x2="559.5" y2="354.75" stroke-width="1.2"/>
<line x1="543.7" y1="354.5" x2="563.5" y2="354.5" stroke-width="1.2"/>
<line x1="550.5" y1="354.75" x2="550.5" y2="359" stroke-width="1.2"/>
<rect x="652.5" y="203.5" width="20" height="156" stroke-width="1.25" fill="none"/>
<line x1="666.5" y1="203.2" x2="666.5" y2="206" stroke-width="1.2"/>
<line x1="652.7" y1="206.5" x2="672.3" y2="206.5" stroke-width="1.2"/>
<line x1="656.5" y1="206" x2="656.5" y2="210.25" stroke-width="1.2"/>
<line x1="663.5" y1="206" x2="663.5" y2="210.25" stroke-width="1.2"/>
<line x1="652.7" y1="210.5" x2="672.3" y2="210.5" stroke-width="1.2"/>
<line x1="666.5" y1="210.25" x2="666.5" y2="214.5" stroke-width="1.2"/>
<line x1="652.7" y1="214.5" x2="672.3" y2="214.5" stroke-width="1.2"/>
<line x1="656.5" y1="214.5" x2="656.5" y2="218.75" stroke-width="1.2"/>
<line x1="663.5" y1="214.5" x2="663.5" y2="218.75" stroke-width="1.2"/>
<line x1="652.7" y1="218.5" x2="672.3" y2="218.5" stroke-width="1.2"/>
<line x1="666.5" y1="218.75" x2="666.5" y2="223" stroke-width="1.2"/>
<line x1="652.7" y1="223.5" x2="672.3" y2="223.5" stroke-width="1.2"/>
<line x1="656.5" y1="223" x2="656.5" y2="227.25" stroke-width="1.2"/>
<line x1="663.5" y1="223" x2="663.5" y2="227.25" stroke-width="1.2"/>
<line x1="652.7" y1="227.5" x2="672.3" y2="227.5" stroke-width="1.2"/>
<line x1="666.5" y1="227.25" x2="666.5" y2="231.5" stroke-width="1.2"/>
<line x1="652.7" y1="231.5" x2="672.3" y2="231.5" stroke-width="1.2"/>
<line x1="656.5" y1="231.5" x2="656.5" y2="235.75" stroke-width="1.2"/>
<line x1="663.5" y1="231.5" x2="663.5" y2="235.75" stroke-width="1.2"/>
<line x1="652.7" y1="235.5" x2="672.3" y2="235.5" stroke-width="1.2"/>
<line x1="666.5" y1="235.75" x2="666.5" y2="240" stroke-width="1.2"/>
<line x1="652.7" y1="240.5" x2="672.3" y2="240.5" stroke-width="1.2"/>
<line x1="656.5" y1="240" x2="656.5" y2="244.25" stroke-width="1.2"/>
<line x1="663.5" y1="240" x2="663.5" y2="244.25" stroke-width="1.2"/>
<line x1="652.7" y1="244.5" x2="672.3" y2="244.5" stroke-width="1.2"/>
<line x1="666.5" y1="244.25" x2="666.5" y2="248.5" stroke-width="1.2"/>
<line x1="652.7" y1="248.5" x2="672.3" y2="248.5" stroke-width="1.2"/>
<line x1="656.5" y1="248.5" x2="656.5" y2="252.75" stroke-width="1.2"/>
<line x1="663.5" y1="248.5" x2="663.5" y2="252.75" stroke-width="1.2"/>
<line x1="652.7" y1="252.5" x2="672.3" y2="252.5" stroke-width="1.2"/>
<line x1="666.5" y1="252.75" x2="666.5" y2="257" stroke-width="1.2"/>
<line x1="652.7" y1="257.5" x2="672.3" y2="257.5" stroke-width="1.2"/>
<line x1="656.5" y1="257" x2="656.5" y2="261.25" stroke-width="1.2"/>
<line x1="663.5" y1="257" x2="663.5" y2="261.25" stroke-width="1.2"/>
<line x1="652.7" y1="261.5" x2="672.3" y2="261.5" stroke-width="1.2"/>
<line x1="666.5" y1="261.25" x2="666.5" y2="265.5" stroke-width="1.2"/>
<line x1="652.7" y1="265.5" x2="672.3" y2="265.5" stroke-width="1.2"/>
<line x1="656.5" y1="265.5" x2="656.5" y2="269.75" stroke-width="1.2"/>
<line x1="663.5" y1="265.5" x2="663.5" y2="269.75" stroke-width="1.2"/>
<line x1="652.7" y1="269.5" x2="672.3" y2="269.5" stroke-width="1.2"/>
<line x1="666.5" y1="269.75" x2="666.5" y2="274" stroke-width="1.2"/>
<line x1="652.7" y1="274.5" x2="672.3" y2="274.5" stroke-width="1.2"/>
<line x1="656.5" y1="274" x2="656.5" y2="278.25" stroke-width="1.2"/>
<line x1="663.5" y1="274" x2="663.5" y2="278.25" stroke-width="1.2"/>
<line x1="652.7" y1="278.5" x2="672.3" y2="278.5" stroke-width="1.2"/>
<line x1="666.5" y1="278.25" x2="666.5" y2="282.5" stroke-width="1.2"/>
<line x1="652.7" y1="282.5" x2="672.3" y2="282.5" stroke-width="1.2"/>
<line x1="656.5" y1="282.5" x2="656.5" y2="286.75" stroke-width="1.2"/>
<line x1="663.5" y1="282.5" x2="663.5" y2="286.75" stroke-width="1.2"/>
<line x1="652.7" y1="286.5" x2="672.3" y2="286.5" stroke-width="1.2"/>
<line x1="666.5" y1="286.75" x2="666.5" y2="291" stroke-width="1.2"/>
<line x1="652.7" y1="291.5" x2="672.3" y2="291.5" stroke-width="1.2"/>
<line x1="656.5" y1="291" x2="656.5" y2="295.25" stroke-width="1.2"/>
<line x1="663.5" y1="291" x2="663.5" y2="295.25" stroke-width="1.2"/>
<line x1="652.7" y1="295.5" x2="672.3" y2="295.5" stroke-width="1.2"/>
<line x1="666.5" y1="295.25" x2="666.5" y2="299.5" stroke-width="1.2"/>
<line x1="652.7" y1="299.5" x2="672.3" y2="299.5" stroke-width="1.2"/>
<line x1="656.5" y1="299.5" x2="656.5" y2="303.75" stroke-width="1.2"/>
<line x1="663.5" y1="299.5" x2="663.5" y2="303.75" stroke-width="1.2"/>
<line x1="652.7" y1="303.5" x2="672.3" y2="303.5" stroke-width="1.2"/>
<line x1="666.5" y1="303.75" x2="666.5" y2="308" stroke-width="1.2"/>
<line x1="652.7" y1="308.5" x2="672.3" y2="308.5" stroke-width="1.2"/>
<line x1="656.5" y1="308" x2="656.5" y2="312.25" stroke-width="1.2"/>
<line x1="663.5" y1="308" x2="663.5" y2="312.25" stroke-width="1.2"/>
<line x1="652.7" y1="312.5" x2="672.3" y2="312.5" stroke-width="1.2"/>
<line x1="666.5" y1="312.25" x2="666.5" y2="316.5" stroke-width="1.2"/>
<line x1="652.7" y1="316.5" x2="672.3" y2="316.5" stroke-width="1.2"/>
<line x1="656.5" y1="316.5" x2="656.5" y2="320.75" stroke-width="1.2"/>
<line x1="663.5" y1="316.5" x2="663.5" y2="320.75" stroke-width="1.2"/>
<line x1="652.7" y1="320.5" x2="672.3" y2="320.5" stroke-width="1.2"/>
<line x1="666.5" y1="320.75" x2="666.5" y2="325" stroke-width="1.2"/>
<line x1="652.7" y1="325.5" x2="672.3" y2="325.5" stroke-width="1.2"/>
<line x1="656.5" y1="325" x2="656.5" y2="329.25" stroke-width="1.2"/>
<line x1="663.5" y1="325" x2="663.5" y2="329.25" stroke-width="1.2"/>
<line x1="652.7" y1="329.5" x2="672.3" y2="329.5" stroke-width="1.2"/>
<line x1="666.5" y1="329.25" x2="666.5" y2="333.5" stroke-width="1.2"/>
<line x1="652.7" y1="333.5" x2="672.3" y2="333.5" stroke-width="1.2"/>
<line x1="656.5" y1="333.5" x2="656.5" y2="337.75" stroke-width="1.2"/>
<line x1="663.5" y1="333.5" x2="663.5" y2="337.75" stroke-width="1.2"/>
<line x1="652.7" y1="337.5" x2="672.3" y2="337.5" stroke-width="1.2"/>
<line x1="666.5" y1="337.75" x2="666.5" y2="342" stroke-width="1.2"/>
<line x1="652.7" y1="342.5" x2="672.3" y2="342.5" stroke-width="1.2"/>
<line x1="656.5" y1="342" x2="656.5" y2="346.25" stroke-width="1.2"/>
<line x1="663.5" y1="342" x2="663.5" y2="346.25" stroke-width="1.2"/>
<line x1="652.7" y1="346.5" x2="672.3" y2="346.5" stroke-width="1.2"/>
<line x1="666.5" y1="346.25" x2="666.5" y2="350.5" stroke-width="1.2"/>
<line x1="652.7" y1="350.5" x2="672.3" y2="350.5" stroke-width="1.2"/>
<line x1="656.5" y1="350.5" x2="656.5" y2="354.75" stroke-width="1.2"/>
<line x1="663.5" y1="350.5" x2="663.5" y2="354.75" stroke-width="1.2"/>
<line x1="652.7" y1="354.5" x2="672.3" y2="354.5" stroke-width="1.2"/>
<line x1="666.5" y1="354.75" x2="666.5" y2="359" stroke-width="1.2"/>
<text x="588" y="192.9"><tspan class="d">5#</tspan>角钢</text>
<line x1="588" y1="193.5" x2="624.6" y2="193.5" stroke-width="1.15"/>
<line x1="624.6" y1="186.5" x2="688.5" y2="186.5" stroke-width="1.15"/>
<line x1="624.5" y1="186.6" x2="624.5" y2="207.2" stroke-width="1.15"/>
<text x="631" y="201.4" class="d">380</text>
<line x1="624.9" y1="204.5" x2="652.7" y2="204.5" stroke-width="1.15"/>
<polygon points="624.9,204.5 630.9,203.05 630.9,205.95" fill="#000" stroke="none"/>
<polygon points="652.7,204.5 646.7,205.95 646.7,203.05" fill="#000" stroke="none"/>
<line x1="685.5" y1="56.5" x2="685.5" y2="203.5" stroke-width="1.15"/>
<polygon points="685.5,56.5 686.95,62.5 684.05,62.5" fill="#000" stroke="none"/>
<polygon points="685.5,171.3 684.05,165.3 686.95,165.3" fill="#000" stroke="none"/>
<polygon points="685.5,171.3 686.95,177.3 684.05,177.3" fill="#000" stroke="none"/>
<polygon points="685.5,186.6 684.05,180.6 686.95,180.6" fill="#000" stroke="none"/>
<text x="682.8" y="111.6" text-anchor="middle" transform="rotate(-90 682.8 111.6)" class="d">1500</text>
<text x="683" y="192.3" text-anchor="middle" transform="rotate(-90 683 192.3)" class="d">200</text>
<line x1="535.9" y1="359.5" x2="643.9" y2="359.5" stroke-width="1.2"/>
<line x1="652.7" y1="359.5" x2="679.7" y2="359.5" stroke-width="1.2"/>
<line x1="535.9" y1="367.5" x2="672" y2="367.5" stroke-width="1.15"/>
<line x1="535.5" y1="359" x2="535.5" y2="384.6" stroke-width="1.15"/>
<line x1="544.5" y1="359" x2="544.5" y2="384.6" stroke-width="1.15"/>
<line x1="563.5" y1="359" x2="563.5" y2="384.6" stroke-width="1.15"/>
<line x1="574.5" y1="359" x2="574.5" y2="384.6" stroke-width="1.15"/>
<line x1="641.5" y1="359" x2="641.5" y2="384.6" stroke-width="1.15"/>
<line x1="652.5" y1="359" x2="652.5" y2="384.6" stroke-width="1.15"/>
<line x1="672.5" y1="359" x2="672.5" y2="384.6" stroke-width="1.15"/>
<line x1="679.5" y1="359" x2="679.5" y2="384.6" stroke-width="1.15"/>
<text x="518" y="381.4" class="d">100</text>
<line x1="517" y1="383.5" x2="554.6" y2="383.5" stroke-width="1.15"/>
<polygon points="535.9,383.5 529.9,384.95 529.9,382.05" fill="#000" stroke="none"/>
<text x="545.2" y="373.5" letter-spacing="-0.2" class="d">240</text>
<line x1="544.2" y1="377.5" x2="563.5" y2="377.5" stroke-width="1.15"/>
<polygon points="544.2,377.5 550.2,376.05 550.2,378.95" fill="#000" stroke="none"/>
<polygon points="563.5,377.5 557.5,378.95 557.5,376.05" fill="#000" stroke="none"/>
<text x="581.4" y="381.4" class="d">130</text>
<line x1="563.5" y1="383.5" x2="594" y2="383.5" stroke-width="1.15"/>
<polygon points="574,383.5 580,382.05 580,384.95" fill="#000" stroke="none"/>
<text x="623.3" y="379.7" class="d">130</text>
<line x1="619.8" y1="382.5" x2="652.7" y2="382.5" stroke-width="1.15"/>
<polygon points="641.6,382.5 635.6,383.95 635.6,381.05" fill="#000" stroke="none"/>
<text x="653.4" y="373.3" letter-spacing="-0.2" class="d">240</text>
<line x1="652.7" y1="376.5" x2="672.1" y2="376.5" stroke-width="1.15"/>
<polygon points="652.7,376.5 658.7,375.05 658.7,377.95" fill="#000" stroke="none"/>
<polygon points="672.1,376.5 666.1,377.95 666.1,375.05" fill="#000" stroke="none"/>
<text x="685.6" y="379.7" class="d">100</text>
<line x1="661.6" y1="382.5" x2="697.7" y2="382.5" stroke-width="1.15"/>
<polygon points="672.1,382.5 666.1,383.95 666.1,381.05" fill="#000" stroke="none"/>
<polygon points="679.7,382.5 685.7,381.05 685.7,383.95" fill="#000" stroke="none"/>
<text x="755.3" y="191.8"><tspan class="d">A</tspan>图放大</text>
<text x="706.4" y="229.6">拉筋</text>
<line x1="701.2" y1="233.5" x2="734.4" y2="233.5" stroke-width="1.15"/>
<line x1="734.4" y1="233.6" x2="761.5" y2="273" stroke-width="1.15"/>
<polygon points="763.6,276.3 759.48,272.43 761.65,271" fill="#000" stroke="none"/>
<line x1="735" y1="240.5" x2="784.5" y2="240.5" stroke-width="1.15"/>
<clipPath id="chc"><path d="M784.5 240.5 L810.2 240.5 Q811 240.6 810.9 241.6 Q810.6 243.6 808.6 244.2 L791.5 246.3 Q788 246.8 787.8 250.4 L787.8 277.2 Q788 280.6 791.5 281 L808.6 282.8 Q810.6 283.4 810.9 285.2 L810.9 286.5 L784.5 286.5 Z"/></clipPath>
<g clip-path="url(#chc)" stroke-width="0.9"><line x1="710" y1="300" x2="780" y2="230"/><line x1="712.9" y1="300" x2="782.9" y2="230"/><line x1="715.8" y1="300" x2="785.8" y2="230"/><line x1="718.7" y1="300" x2="788.7" y2="230"/><line x1="721.6" y1="300" x2="791.6" y2="230"/><line x1="724.5" y1="300" x2="794.5" y2="230"/><line x1="727.4" y1="300" x2="797.4" y2="230"/><line x1="730.3" y1="300" x2="800.3" y2="230"/><line x1="733.2" y1="300" x2="803.2" y2="230"/><line x1="736.1" y1="300" x2="806.1" y2="230"/><line x1="739" y1="300" x2="809" y2="230"/><line x1="741.9" y1="300" x2="811.9" y2="230"/><line x1="744.8" y1="300" x2="814.8" y2="230"/><line x1="747.7" y1="300" x2="817.7" y2="230"/><line x1="750.6" y1="300" x2="820.6" y2="230"/><line x1="753.5" y1="300" x2="823.5" y2="230"/><line x1="756.4" y1="300" x2="826.4" y2="230"/><line x1="759.3" y1="300" x2="829.3" y2="230"/><line x1="762.2" y1="300" x2="832.2" y2="230"/><line x1="765.1" y1="300" x2="835.1" y2="230"/><line x1="768" y1="300" x2="838" y2="230"/><line x1="770.9" y1="300" x2="840.9" y2="230"/><line x1="773.8" y1="300" x2="843.8" y2="230"/><line x1="776.7" y1="300" x2="846.7" y2="230"/><line x1="779.6" y1="300" x2="849.6" y2="230"/><line x1="782.5" y1="300" x2="852.5" y2="230"/><line x1="785.4" y1="300" x2="855.4" y2="230"/><line x1="788.3" y1="300" x2="858.3" y2="230"/><line x1="791.2" y1="300" x2="861.2" y2="230"/><line x1="794.1" y1="300" x2="864.1" y2="230"/><line x1="797" y1="300" x2="867" y2="230"/><line x1="799.9" y1="300" x2="869.9" y2="230"/><line x1="802.8" y1="300" x2="872.8" y2="230"/><line x1="805.7" y1="300" x2="875.7" y2="230"/><line x1="808.6" y1="300" x2="878.6" y2="230"/><line x1="811.5" y1="300" x2="881.5" y2="230"/><line x1="814.4" y1="300" x2="884.4" y2="230"/><line x1="817.3" y1="300" x2="887.3" y2="230"/><line x1="820.2" y1="300" x2="890.2" y2="230"/><line x1="823.1" y1="300" x2="893.1" y2="230"/><line x1="826" y1="300" x2="896" y2="230"/><line x1="828.9" y1="300" x2="898.9" y2="230"/></g>
<path d="M784.5 240.5 L810.2 240.5 Q811 240.6 810.9 241.6 Q810.6 243.6 808.6 244.2 L791.5 246.3 Q788 246.8 787.8 250.4 L787.8 277.2 Q788 280.6 791.5 281 L808.6 282.8 Q810.6 283.4 810.9 285.2 L810.9 286.5 L784.5 286.5 Z" stroke-width="1.2" fill="none"/>
<line x1="784.5" y1="223" x2="784.5" y2="240.5" stroke-width="1.15"/>
<line x1="784.5" y1="227.5" x2="846" y2="227.5" stroke-width="1.15"/>
<polygon points="784.5,227.5 790.5,226.05 790.5,228.95" fill="#000" stroke="none"/>
<polygon points="846,227.5 840,228.95 840,226.05" fill="#000" stroke="none"/>
<text x="821.2" y="224.5" text-anchor="middle" class="d">1500</text>
<line x1="846.5" y1="230.1" x2="810.3" y2="242.6" stroke-width="1.15"/>
<text x="853.8" y="228.2"><tspan class="d">8#</tspan>热轧槽钢</text>
<line x1="846.5" y1="230.5" x2="914.5" y2="230.5" stroke-width="1.15"/>
<path d="M735 240.5 C738 247 743.5 250 741.5 257 C739.5 265 736 273 736 281.5 C736 293 747 305 757 311.5 C765 316.5 773 318.6 779 318.4 C790 318 801 312 810.8 307 L810.8 286.5" stroke-width="1.15" fill="none"/>
<path d="M784.5 261 C776 263.5 770 270.5 766 277 C762.8 283 764.8 289.5 762 295 C760 298.5 758 300.3 755.4 301.3" stroke-width="1.9" fill="none"/>
<text x="209.3" y="425.7">地基俯视图</text>
<line x1="131" y1="444.5" x2="328" y2="444.5" stroke-width="1.15"/>
<polygon points="131,444.5 137,443.05 137,445.95" fill="#000" stroke="none"/>
<polygon points="328,444.5 322,445.95 322,443.05" fill="#000" stroke="none"/>
<text x="233" y="443" text-anchor="middle" class="d">2490</text>
<line x1="146.7" y1="458.5" x2="313.5" y2="458.5" stroke-width="1.15"/>
<polygon points="146.7,458.5 152.7,457.05 152.7,459.95" fill="#000" stroke="none"/>
<polygon points="313.5,458.5 307.5,459.95 307.5,457.05" fill="#000" stroke="none"/>
<text x="233.2" y="456" text-anchor="middle" class="d">2100</text>
<line x1="166.7" y1="472.5" x2="293.4" y2="472.5" stroke-width="1.15"/>
<polygon points="166.7,472.5 172.7,471.05 172.7,473.95" fill="#000" stroke="none"/>
<polygon points="293.4,472.5 287.4,473.95 287.4,471.05" fill="#000" stroke="none"/>
<text x="233.4" y="469.5" text-anchor="middle" class="d">1500</text>
<line x1="146.5" y1="453.8" x2="146.5" y2="489.4" stroke-width="1.15"/>
<line x1="313.5" y1="453.8" x2="313.5" y2="494.5" stroke-width="1.15"/>
<line x1="166.5" y1="470.2" x2="166.5" y2="489.6" stroke-width="1.15"/>
<line x1="293.5" y1="470.2" x2="293.5" y2="489.6" stroke-width="1.15"/>
<rect x="165.6" y="488.3" width="2.2" height="2" stroke-width="0.1" fill="#000"/>
<rect x="165.6" y="585.4" width="2.2" height="2" stroke-width="0.1" fill="#000"/>
<rect x="292.3" y="488.3" width="2.2" height="2" stroke-width="0.1" fill="#000"/>
<rect x="292.3" y="585.4" width="2.2" height="2" stroke-width="0.1" fill="#000"/>
<line x1="77.6" y1="475.5" x2="426.4" y2="475.5" stroke-width="1.15"/>
<line x1="77.6" y1="600.5" x2="426.4" y2="600.5" stroke-width="1.15"/>
<line x1="94.4" y1="487.5" x2="313.5" y2="487.5" stroke-width="1.15"/>
<line x1="94.4" y1="588.5" x2="313.5" y2="588.5" stroke-width="1.15"/>
<line x1="112.3" y1="489.5" x2="146.6" y2="489.5" stroke-width="1.15"/>
<line x1="112.3" y1="586.5" x2="146.6" y2="586.5" stroke-width="1.15"/>
<line x1="146.6" y1="489.3" x2="167.6" y2="489.3" stroke-width="1.7"/>
<line x1="146.6" y1="586.4" x2="167.6" y2="586.4" stroke-width="1.7"/>
<line x1="149.3" y1="490.5" x2="310.8" y2="490.5" stroke-width="1.15"/>
<line x1="149.3" y1="584.5" x2="310.8" y2="584.5" stroke-width="1.15"/>
<line x1="146.5" y1="487.3" x2="146.5" y2="588.4" stroke-width="1.15"/>
<line x1="149.5" y1="490.8" x2="149.5" y2="584.3" stroke-width="1.15"/>
<line x1="310.5" y1="490.8" x2="310.5" y2="584.3" stroke-width="1.15"/>
<line x1="313.5" y1="487.3" x2="313.5" y2="588.4" stroke-width="1.15"/>
<line x1="35" y1="493.5" x2="131" y2="493.5" stroke-width="1.15"/>
<line x1="16.5" y1="497.5" x2="131" y2="497.5" stroke-width="1.15"/>
<line x1="16.5" y1="579.5" x2="131" y2="579.5" stroke-width="1.15"/>
<line x1="35" y1="582.5" x2="131" y2="582.5" stroke-width="1.15"/>
<path d="M35 483.5 L35 521 C35 524 27.4 526.5 27.4 529.3 C27.4 533 43.6 535.5 43.6 539.6 C43.6 544 35 549 35 553 L35 598" stroke-width="1.15" fill="none"/>
<line x1="66.5" y1="497.4" x2="66.5" y2="579.3" stroke-width="1.15"/>
<line x1="19.5" y1="497.4" x2="19.5" y2="579.3" stroke-width="1.15"/>
<polygon points="19.5,497.4 20.95,503.4 18.05,503.4" fill="#000" stroke="none"/>
<polygon points="19.5,579.3 18.05,573.3 20.95,573.3" fill="#000" stroke="none"/>
<text x="12.6" y="537.8" text-anchor="middle" transform="rotate(-90 12.6 537.8)">净宽<tspan class="d">100</tspan></text>
<line x1="80.5" y1="475.6" x2="80.5" y2="600.1" stroke-width="1.15"/>
<polygon points="80.5,475.6 81.95,481.6 79.05,481.6" fill="#000" stroke="none"/>
<polygon points="80.5,600.1 79.05,594.1 81.95,594.1" fill="#000" stroke="none"/>
<text x="78.3" y="537.2" text-anchor="middle" transform="rotate(-90 78.3 537.2)" class="d">1500</text>
<line x1="97.5" y1="487.3" x2="97.5" y2="588.4" stroke-width="1.15"/>
<polygon points="97.5,487.3 98.95,493.3 96.05,493.3" fill="#000" stroke="none"/>
<polygon points="97.5,588.4 96.05,582.4 98.95,582.4" fill="#000" stroke="none"/>
<text x="95.9" y="537.2" text-anchor="middle" transform="rotate(-90 95.9 537.2)" class="d">1200</text>
<line x1="115.5" y1="489.4" x2="115.5" y2="586.3" stroke-width="1.15"/>
<polygon points="115.5,489.4 116.95,495.4 114.05,495.4" fill="#000" stroke="none"/>
<polygon points="115.5,586.3 114.05,580.3 116.95,580.3" fill="#000" stroke="none"/>
<text x="113.8" y="538.8" text-anchor="middle" transform="rotate(-90 113.8 538.8)" class="d">1160</text>
<text x="55.6" y="533.9" text-anchor="middle">电</text>
<text x="55.6" y="548.3" text-anchor="middle">缆</text>
<text x="55.6" y="562.7" text-anchor="middle">沟</text>
<line x1="102.2" y1="538.3" x2="451" y2="538.3" stroke-width="1" stroke-dasharray="1.2 3.4 12.3 7.4"/>
<line x1="140.2" y1="559.5" x2="310.8" y2="559.5" stroke-width="1.15"/>
<line x1="149.3" y1="562.5" x2="310.8" y2="562.5" stroke-width="1.15"/>
<line x1="142.5" y1="559.7" x2="142.5" y2="588.4" stroke-width="1.15"/>
<polygon points="142.5,559.7 143.95,565.7 141.05,565.7" fill="#000" stroke="none"/>
<polygon points="142.5,588.4 141.05,582.4 143.95,582.4" fill="#000" stroke="none"/>
<text x="140" y="572.9" text-anchor="middle" transform="rotate(-90 140 572.9)" class="d">380</text>
<text x="241" y="549.6">电缆支架</text>
<line x1="242" y1="552.5" x2="283" y2="552.5" stroke-width="1.15"/>
<line x1="242" y1="552.3" x2="224" y2="559.4" stroke-width="1.15"/>
<polygon points="220,561 224.21,558.05 225.09,560.28" fill="#000" stroke="none"/>
<rect x="313.5" y="494.5" width="96" height="86" stroke-width="1.15" fill="none"/>
<line x1="426.5" y1="475.6" x2="426.5" y2="600.1" stroke-width="1.15"/>
<line x1="328.4" y1="619.5" x2="455" y2="619.5" stroke-width="1.15"/>
<line x1="369.8" y1="460.5" x2="409.4" y2="460.5" stroke-width="1.15"/>
<polygon points="369.8,460.5 375.8,459.05 375.8,461.95" fill="#000" stroke="none"/>
<polygon points="409.4,460.5 403.4,461.95 403.4,459.05" fill="#000" stroke="none"/>
<text x="390.6" y="455.6" text-anchor="middle" class="d">500</text>
<line x1="369.5" y1="453.3" x2="369.5" y2="537.5" stroke-width="1.15"/>
<line x1="409.5" y1="453.3" x2="409.5" y2="494.5" stroke-width="1.15"/>
<circle cx="382" cy="538.3" r="35.5" stroke-width="1.15" fill="none"/>
<line x1="381.5" y1="502.6" x2="381.5" y2="568.4" stroke-width="1.15"/>
<text x="365.8" y="519.1">电缆井口</text>
<path d="M432.2 526.3 L404.3 526.3 L404.3 549.2 L432.2 549.2" stroke-width="1.15" fill="none"/>
<text x="367.8" y="562.2" transform="rotate(-65 367.8 562.2)" class="d">Φ900</text>
<line x1="379.1" y1="543.2" x2="371.6" y2="564.2" stroke-width="1.15"/>
<polygon points="370.4,567.4 371.02,562.1 373.28,562.91" fill="#000" stroke="none"/>
<line x1="207.5" y1="618" x2="207.5" y2="673" stroke-width="1.15"/>
<polygon points="207.5,613.4 208.8,619.4 206.2,619.4" fill="#000" stroke="none"/>
<text x="230" y="643.9">操作机构所在方向</text>
</svg>
</body></html>
